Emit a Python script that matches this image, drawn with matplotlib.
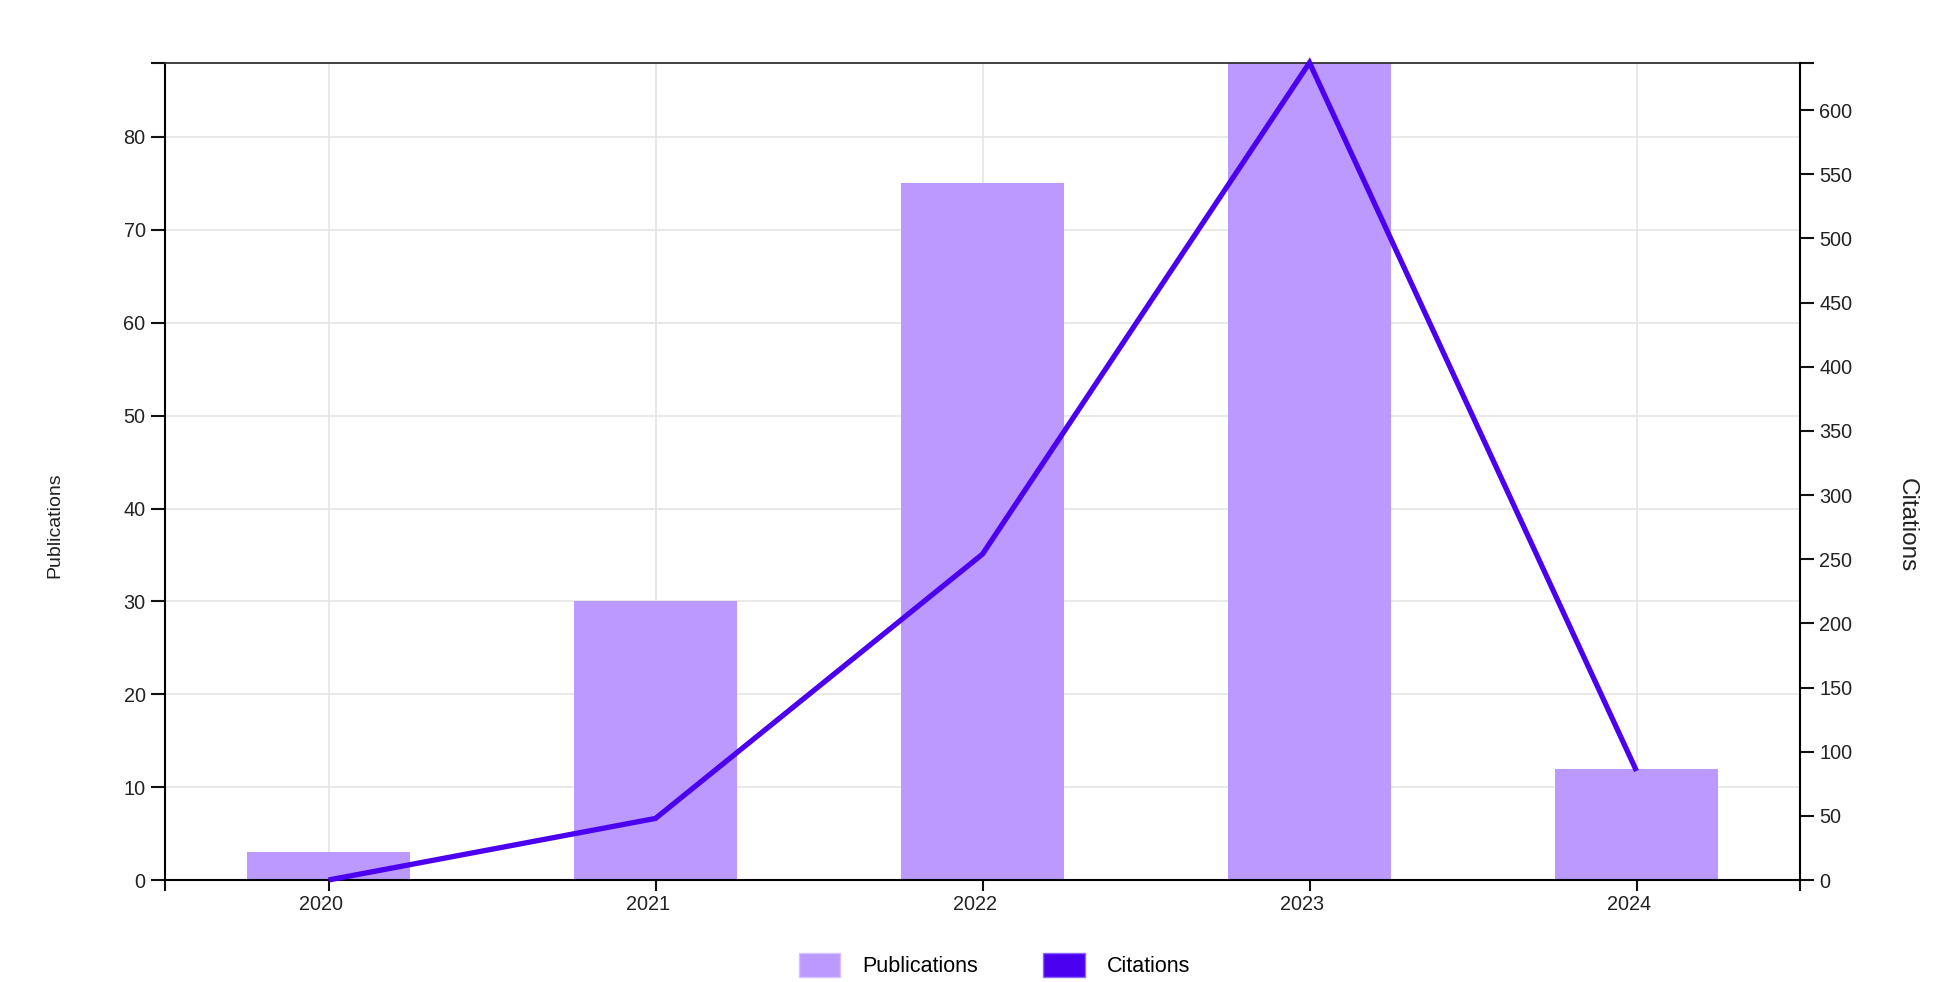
import matplotlib
matplotlib.use("Agg")
import matplotlib.pyplot as plt
import matplotlib.transforms as mtransforms
from matplotlib.patches import Patch

years = ["2020", "2021", "2022", "2023", "2024"]
publications = [3, 30, 75, 88, 12]
citations = [0, 48, 254, 637, 85]
pub_ticks = [0, 10, 20, 30, 40, 50, 60, 70, 80]
cit_ticks = [0, 50, 100, 150, 200, 250, 300, 350, 400, 450, 500, 550, 600]

bar_color = "#bb99ff"
line_color = "#4b00f0"

plt.rcParams["font.family"] = ["Liberation Sans", "DejaVu Sans"]

fig = plt.figure(figsize=(19.42, 9.82), dpi=100)
ax = fig.add_axes([165 / 1942, 1 - 880 / 982, (1800 - 165) / 1942, (880 - 62.7) / 982])
ax2 = ax.twinx()

x = list(range(len(years)))
ax.bar(x, publications, width=0.5, color=bar_color, zorder=2)
ax.set_xlim(-0.5, len(years) - 0.5)
ax.set_ylim(0, max(publications))
ax2.set_ylim(0, max(citations))

ax2.plot(x, citations, color=line_color, lw=3.8, solid_joinstyle="miter",
         solid_capstyle="butt", clip_on=False, zorder=5)
ax2.set_zorder(ax.get_zorder() + 1)
ax2.patch.set_visible(False)

# grid
ax.set_axisbelow(True)
ax.grid(True, color="#e3e3e3", lw=1.1)

# ticks
ax.set_xticks(x)
ax.set_xticklabels(years)
ax.set_yticks(pub_ticks)
ax2.set_yticks(cit_ticks)
ax.set_xticks([-0.5, len(years) - 0.5], minor=True)
ax.set_yticks([max(publications)], minor=True)
ax2.set_yticks([max(citations)], minor=True)

ax.tick_params(axis="y", which="both", length=10, width=1.5, labelsize=14.3, colors="#111", labelcolor="#222", pad=4)
ax2.tick_params(axis="y", which="both", length=10, width=1.5, labelsize=14.3, colors="#111", labelcolor="#222", pad=4)
ax.tick_params(axis="x", which="both", length=8, width=1.5, labelsize=14.3, colors="#111", labelcolor="#222", pad=3)

offset = mtransforms.ScaledTranslation(-7 / 100, 0, fig.dpi_scale_trans)
for lab in ax.get_xticklabels():
    lab.set_transform(lab.get_transform() + offset)

for s in ["left", "bottom"]:
    ax.spines[s].set_linewidth(1.5)
ax.spines["top"].set_linewidth(1.3)
ax.spines["top"].set_color("#333")
ax.spines["right"].set_visible(False)
for s in ["left", "top", "bottom"]:
    ax2.spines[s].set_visible(False)
ax2.spines["right"].set_linewidth(1.5)

fig.text(55 / 1942, 1 - 525 / 982, "Publications", rotation=90, fontsize=14,
         ha="center", va="center", color="#222")
fig.text(1907 / 1942, 1 - 525 / 982, "Citations", rotation=270, fontsize=17.5,
         ha="center", va="center", color="#222")

handles = [Patch(facecolor=bar_color, edgecolor="#d5c2ff", label="Publications"),
           Patch(facecolor=line_color, edgecolor="#8a66ff", label="Citations")]
fig.legend(handles=handles, loc="center", bbox_to_anchor=(0.512, 1 - 965 / 982),
           ncol=2, frameon=False, fontsize=15.5, handlelength=1.93, handleheight=1.31,
           handletextpad=1.0, columnspacing=3.05)

fig.savefig("out.png", dpi=100)
